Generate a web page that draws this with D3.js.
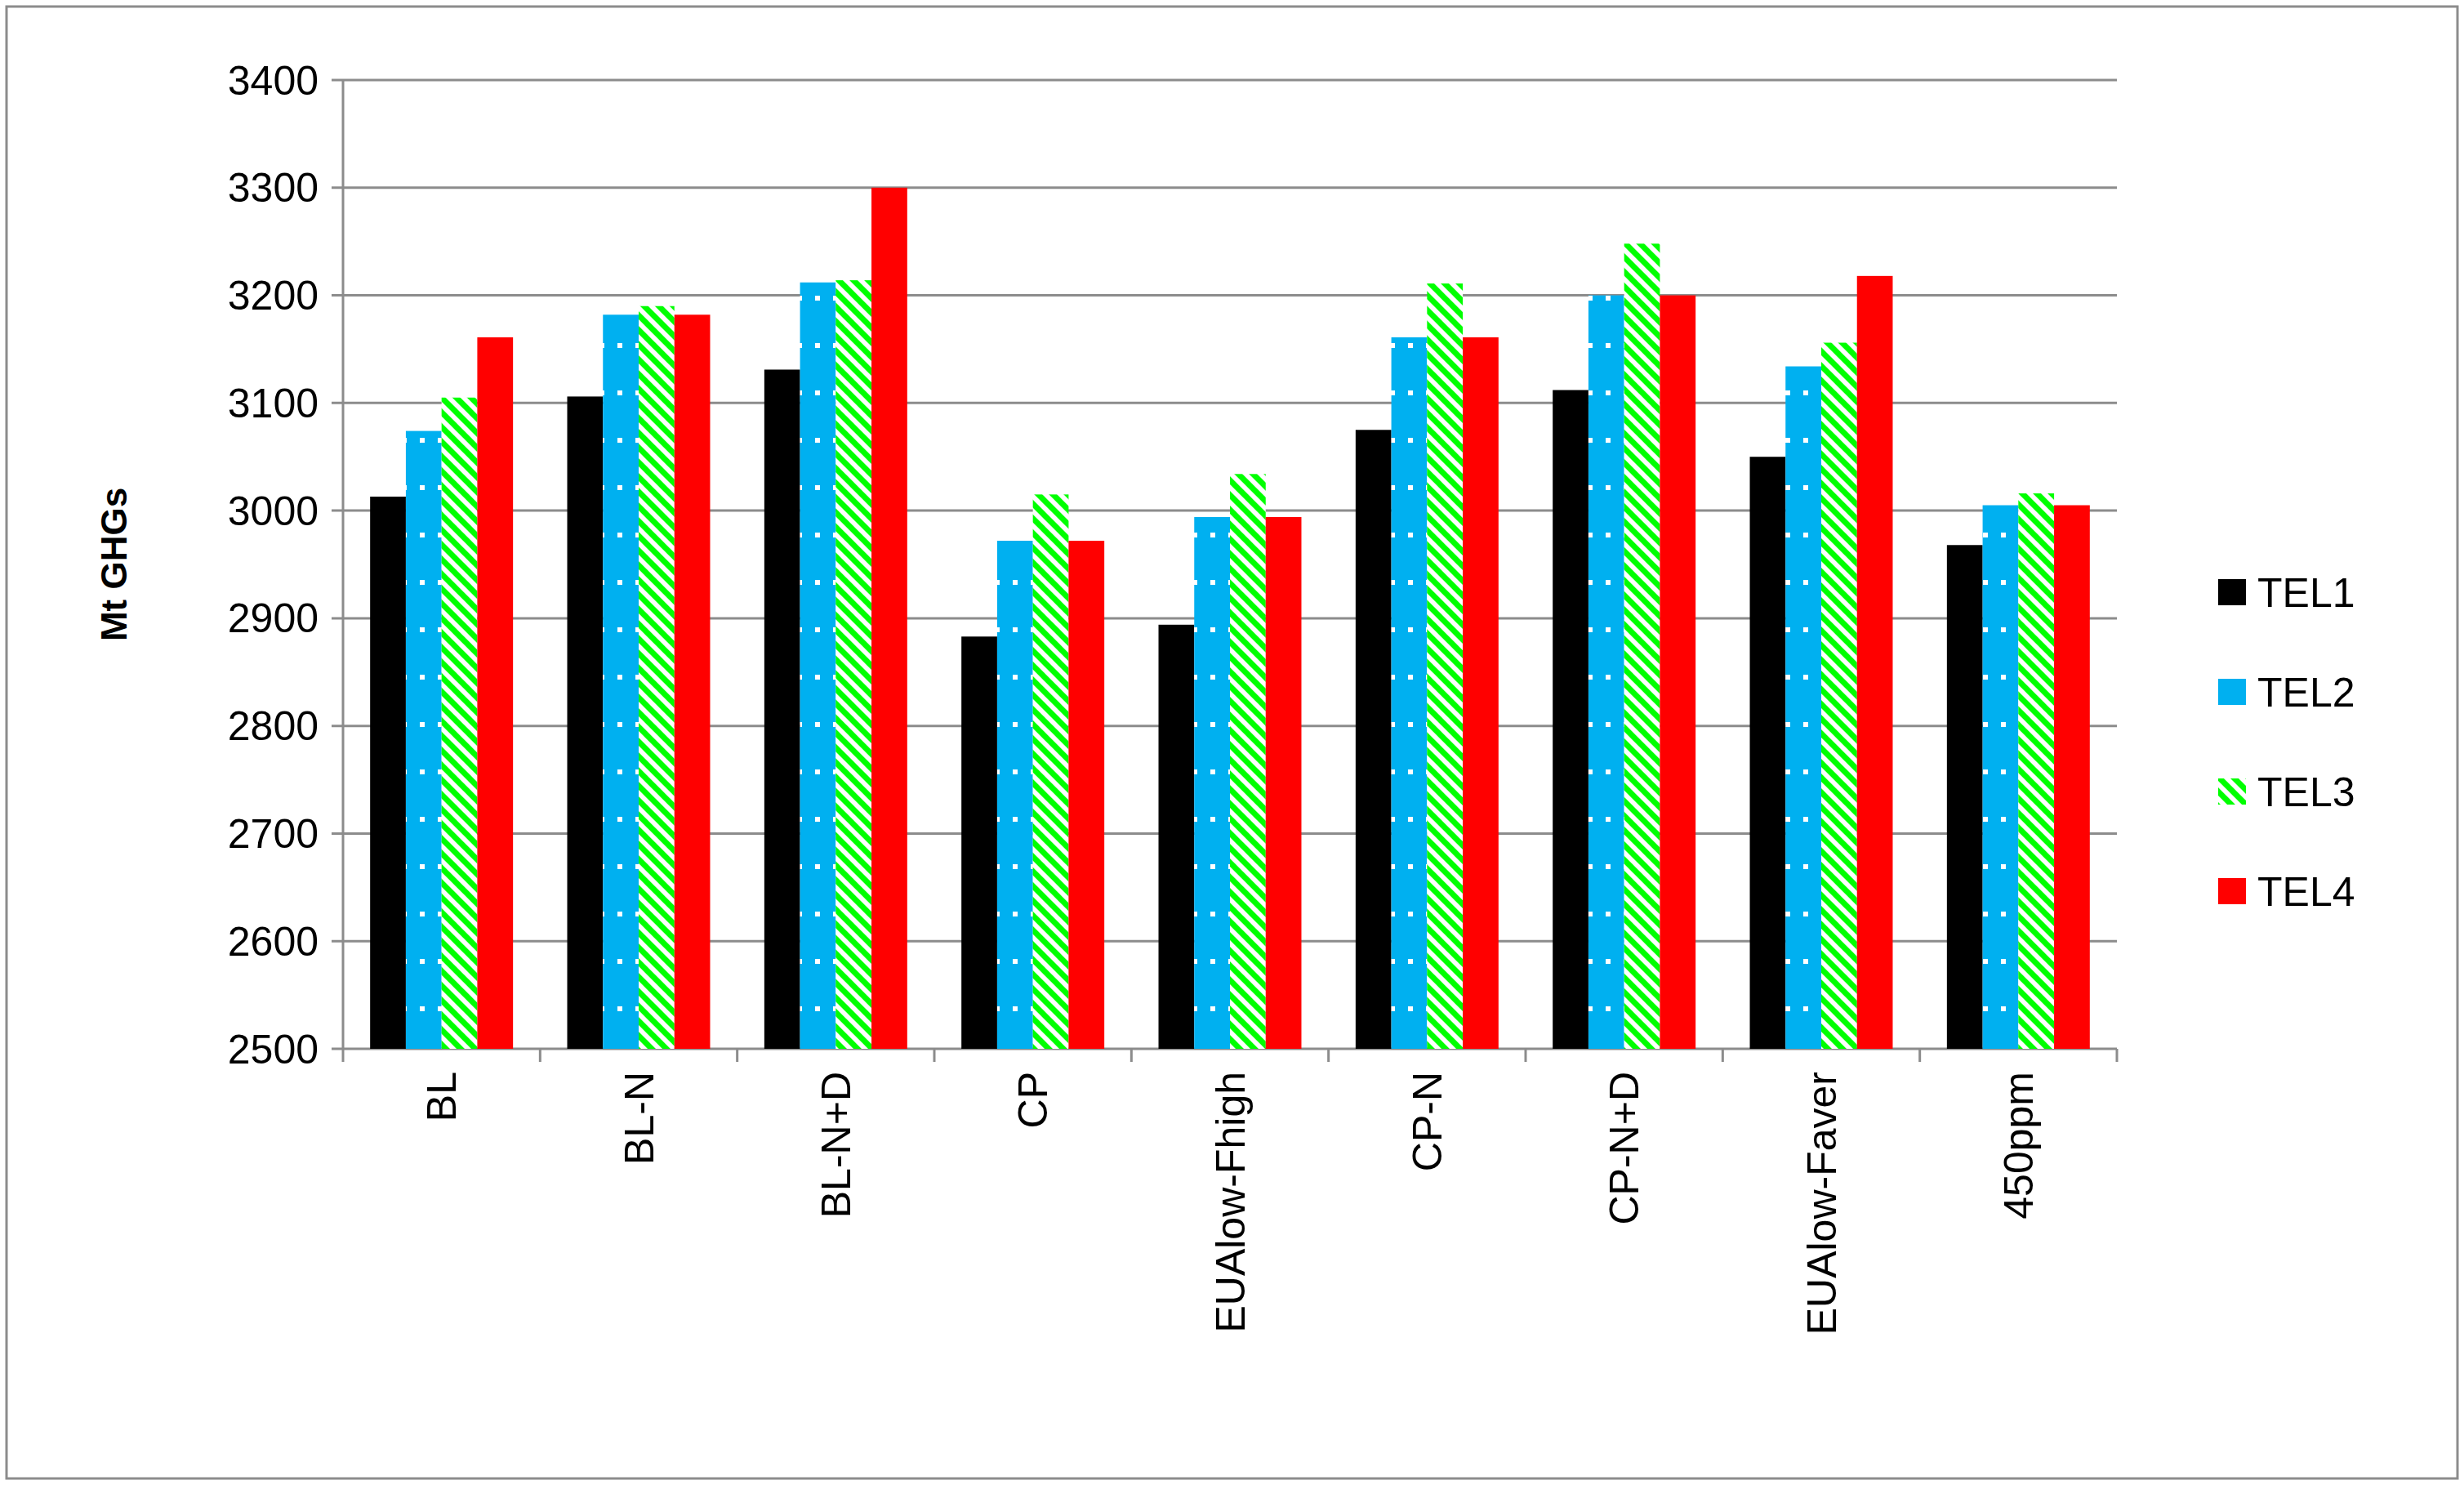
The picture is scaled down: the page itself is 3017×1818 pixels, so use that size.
<!DOCTYPE html>
<html><head><meta charset="utf-8">
<script src="https://cdn.jsdelivr.net/npm/d3@7"></script>
<style>body{margin:0;background:#fff;} text{font-family:"Liberation Sans",Arial,sans-serif;}</style>
</head><body>
<script>
// data
var categories = ["BL","BL-N","BL-N+D","CP","EUAlow-Fhigh","CP-N","CP-N+D","EUAlow-Faver","450ppm"];
var seriesNames = ["TEL1","TEL2","TEL3","TEL4"];
var tel1 = [3013,3106,3131,2883,2894,3075,3112,3050,2968];
var tel2 = [3074,3182,3212,2972,2994,3161,3200,3134,3005];
var tel3 = [3105,3190,3214,3015,3034,3211,3248,3156,3016];
var tel4 = [3161,3182,3300,2972,2994,3161,3200,3218,3005];
var yTicks = [2500,2600,2700,2800,2900,3000,3100,3200,3300,3400];
var seriesValues = [tel1,tel2,tel3,tel4];

var W = 3017, H = 1818;
var L = 420, R = 2592, T = 98, B = 1284;
var svg = d3.select("body").append("svg").attr("width",W).attr("height",H);
var defs = svg.append("defs");

// TEL2: blue with sparse white dots
var p2 = defs.append("pattern").attr("id","p2").attr("patternUnits","userSpaceOnUse")
  .attr("width",22).attr("height",58);
p2.append("rect").attr("width",22).attr("height",58).attr("fill","#00b0f0");
p2.append("rect").attr("x",8).attr("y",14).attr("width",6).attr("height",6).attr("fill","#fff");
// TEL3: green diagonal stripes
var p3 = defs.append("pattern").attr("id","p3").attr("patternUnits","userSpaceOnUse")
  .attr("width",18).attr("height",18);
p3.append("rect").attr("width",18).attr("height",18).attr("fill","#fff");
p3.append("path").attr("d","M-4,-4 L22,22 M-4,14 L4,22 M14,-4 L22,4").attr("stroke","#00ff00").attr("stroke-width",7);

var fills = ["#000000","url(#p2)","url(#p3)","#ff0000"];
var legendFills = ["#000000","#00b0f0","url(#p3)","#ff0000"];

// outer border
svg.append("rect").attr("x",8).attr("y",8).attr("width",W-16).attr("height",H-16)
  .attr("fill","none").attr("stroke","#8c8c8c").attr("stroke-width",3);

var x = d3.scaleBand().domain(categories).range([L,R]).paddingInner(0.275).paddingOuter(0.1375);
var xs = d3.scaleBand().domain(seriesNames).range([0,x.bandwidth()]);
var y = d3.scaleLinear().domain([2500,3400]).range([B,T]);

// gridlines
svg.append("g").selectAll("line").data(yTicks).join("line")
  .attr("x1",L-14).attr("x2",R).attr("y1",d=>y(d)).attr("y2",d=>y(d))
  .attr("stroke","#8c8c8c").attr("stroke-width",3);

// bars
seriesNames.forEach(function(s,i){
  svg.append("g").selectAll("rect").data(seriesValues[i]).join("rect")
    .attr("x",(d,j)=>x(categories[j])+xs(s)).attr("width",xs.bandwidth())
    .attr("y",d=>y(d)).attr("height",d=>B-y(d)).attr("fill",fills[i]);
});

// y axis line
svg.append("line").attr("x1",L).attr("x2",L).attr("y1",T).attr("y2",B).attr("stroke","#8c8c8c").attr("stroke-width",3);
// x axis ticks (band boundaries)
var step = x.step();
var bounds = d3.range(categories.length+1).map(k=>L+k*step);
svg.append("g").selectAll("line").data(bounds).join("line")
  .attr("x1",d=>d).attr("x2",d=>d).attr("y1",B).attr("y2",B+16)
  .attr("stroke","#8c8c8c").attr("stroke-width",3);

// y tick labels
svg.append("g").selectAll("text").data(yTicks).join("text")
  .attr("x",L-30).attr("y",d=>y(d)).attr("dy","0.35em").attr("text-anchor","end")
  .attr("font-size",50).text(d=>d);

// x labels rotated
svg.append("g").selectAll("text").data(categories).join("text")
  .attr("transform",d=>"translate("+(x(d)+x.bandwidth()/2)+","+(B+28)+") rotate(-90)")
  .attr("dy","0.35em").attr("text-anchor","end").attr("font-size",50).text(d=>d);

// y title
svg.append("text").attr("transform","translate(155,"+((T+B)/2)+") rotate(-90)")
  .attr("text-anchor","middle").attr("font-size",44).attr("font-weight","bold").text("Mt GHGs");

// legend
var lg = svg.append("g").selectAll("g").data(seriesNames).join("g")
  .attr("transform",(d,i)=>"translate(2716,"+(725+i*122)+")");
lg.append("rect").attr("x",0).attr("y",-16).attr("width",34).attr("height",32).attr("fill",(d,i)=>legendFills[i]);
lg.append("text").attr("x",48).attr("dy","0.36em").attr("font-size",50).text(d=>d);
</script>
</body></html>
